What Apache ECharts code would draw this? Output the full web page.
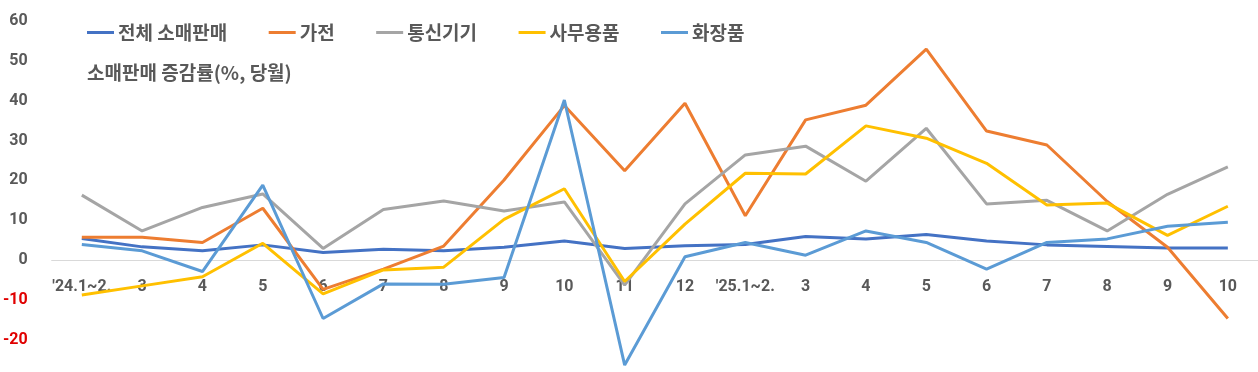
<!DOCTYPE html>
<html>
<head>
<meta charset="utf-8">
<script src="https://cdn.jsdelivr.net/npm/echarts@6/dist/echarts.min.js"></script>
<style>
  html, body { margin: 0; padding: 0; background: #ffffff; overflow: hidden; }
  #chart { width: 1258px; height: 372px; }
</style>
</head>
<body>
<div id="chart"></div>
<script>
const categories = ["'24.1~2.", "3", "4", "5", "6", "7", "8", "9", "10", "11", "12", "'25.1~2.", "3", "4", "5", "6", "7", "8", "9", "10"];
const seriesNames = ["전체 소매판매", "가전", "통신기기", "사무용품", "화장품"];
const totalRetail = [5.4, 3.3, 2.3, 3.8, 1.9, 2.7, 2.3, 3.2, 4.8, 2.9, 3.6, 3.9, 5.9, 5.3, 6.4, 4.8, 3.8, 3.4, 3.0, 3.0];
const appliances = [5.7, 5.7, 4.4, 13.0, -7.4, -2.3, 3.5, 20.1, 38.8, 22.4, 39.4, 11.1, 35.2, 38.9, 53.0, 32.4, 28.9, 14.7, 3.2, -14.7];
const telecom = [16.3, 7.3, 13.2, 16.6, 2.9, 12.7, 14.8, 12.3, 14.6, -6.3, 14.1, 26.4, 28.6, 19.8, 33.1, 14.1, 15.0, 7.3, 16.5, 23.4];
const officeSupplies = [-8.8, -6.5, -4.2, 4.2, -8.5, -2.5, -1.8, 10.2, 17.9, -5.4, 9.0, 21.8, 21.6, 33.7, 30.6, 24.3, 13.8, 14.3, 6.2, 13.5];
const cosmetics = [3.9, 2.3, -2.9, 18.8, -14.7, -6.0, -6.1, -4.4, 40.2, -26.4, 0.8, 4.4, 1.2, 7.3, 4.4, -2.3, 4.4, 5.3, 8.5, 9.5];
const subtitle = "소매판매 증감률(%, 당월)";
const colors = ["#4472C4", "#ED7D31", "#A5A5A5", "#FFC000", "#5B9BD5"];

const numFont = "Roboto, 'DejaVu Sans Condensed', 'Noto Sans CJK KR', sans-serif";
const krFont = "'Noto Sans CJK KR', sans-serif";
const dataSets = [totalRetail, appliances, telecom, officeSupplies, cosmetics];

const gridTop = 21.2, gridBottom = 32.4, yMin = -20, yMax = 60;
const plotH = 372 - gridTop - gridBottom;
// distance from bottom of the grid up to the zero value line
const zeroOffset = plotH * (0 - yMin) / (yMax - yMin);

const chart = echarts.init(document.getElementById('chart'), null, { renderer: 'canvas' });
chart.setOption({
  animation: false,
  color: colors,
  title: {
    text: subtitle,
    left: 87,
    top: 63,
    padding: 0,
    textStyle: { fontFamily: krFont, fontSize: 19, fontWeight: 'bold', color: '#595959' }
  },
  legend: {
    left: 87,
    top: 23,
    padding: 0,
    icon: 'rect',
    itemWidth: 27,
    itemHeight: 3,
    itemGap: 41.5,
    data: seriesNames,
    textStyle: { fontFamily: krFont, fontSize: 19, fontWeight: 'bold', color: '#595959', padding: [0, 0, 0, -1] }
  },
  grid: { left: 46.5, right: -6.5, top: gridTop, bottom: gridBottom, containLabel: false },
  xAxis: {
    type: 'category',
    data: categories,
    boundaryGap: true,
    offset: -zeroOffset,
    axisLine: { onZero: false, lineStyle: { color: '#D9D9D9', width: 1 } },
    axisTick: { show: false },
    axisLabel: { interval: 0, margin: 19, fontFamily: numFont, fontSize: 16, fontWeight: 'bold', color: '#595959' },
    splitLine: { show: false }
  },
  yAxis: {
    type: 'value',
    min: yMin,
    max: yMax,
    interval: 10,
    axisLine: { show: false },
    axisTick: { show: false },
    splitLine: { show: false },
    axisLabel: {
      margin: 24,
      fontFamily: numFont,
      fontSize: 16,
      fontWeight: 'bold',
      color: function (v) { return Number(v) < 0 ? '#E00000' : '#595959'; }
    }
  },
  series: seriesNames.map(function (name, i) {
    return {
      name: name,
      type: 'line',
      data: dataSets[i],
      symbol: 'none',
      clip: false,
      lineStyle: { width: 3, color: colors[i] },
      itemStyle: { color: colors[i] }
    };
  })
});
</script>
</body>
</html>
